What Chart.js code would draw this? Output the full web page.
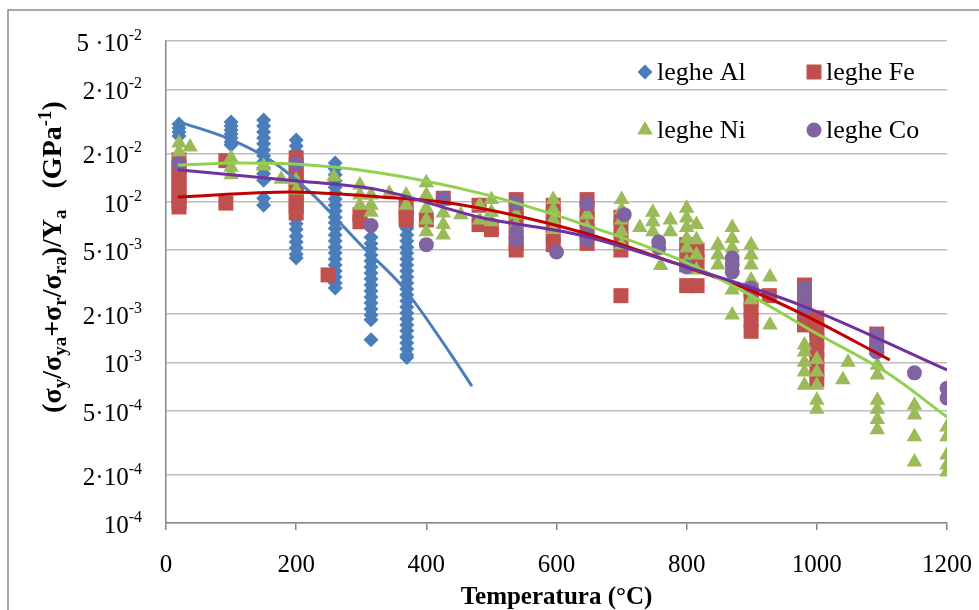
<!DOCTYPE html>
<html>
<head>
<meta charset="utf-8">
<script src="https://cdn.jsdelivr.net/npm/chart.js@4.4.0/dist/chart.umd.min.js"></script>
<style>
html, body { margin: 0; padding: 0; background: #fff; }
#contenitore { width: 979px; height: 610px; position: relative; }
</style>
</head>
<body>
<div id="contenitore"><canvas id="grafico"></canvas></div>
<script>
// valori: [temperatura °C, valore GPa^-1]
const legheAl = [
    [20, 3.04e-2], [20, 2.87e-2], [20, 2.71e-2], [20, 2.56e-2],
    [100, 3.13e-2], [100, 2.96e-2], [100, 2.79e-2], [100, 2.64e-2], [100, 2.49e-2], [100, 2.35e-2], [100, 2.25e-2],
    [150, 3.22e-2], [150, 2.96e-2], [150, 2.71e-2], [150, 2.49e-2], [150, 2.29e-2], [150, 2.10e-2], [150, 1.93e-2],
    [150, 1.77e-2], [150, 1.62e-2], [150, 1.49e-2], [150, 1.36e-2], [150, 1.05e-2], [150, 9.5e-3],
    [200, 2.42e-2], [200, 2.22e-2], [200, 2.04e-2], [200, 1.87e-2], [200, 1.72e-2], [200, 1.58e-2], [200, 1.45e-2],
    [200, 1.33e-2], [200, 1.22e-2], [200, 1.12e-2], [200, 1.03e-2], [200, 9.4e-3], [200, 8.6e-3], [200, 7.9e-3],
    [200, 7.3e-3], [200, 6.7e-3], [200, 6.1e-3], [200, 5.6e-3], [200, 5.15e-3], [200, 4.7e-3], [200, 4.46e-3],
    [260, 1.74e-2], [260, 1.60e-2], [260, 1.47e-2], [260, 1.35e-2], [260, 1.23e-2], [260, 1.13e-2], [260, 1.04e-2],
    [260, 9.5e-3], [260, 8.75e-3], [260, 8.0e-3], [260, 7.4e-3], [260, 6.8e-3], [260, 6.2e-3], [260, 5.7e-3],
    [260, 5.2e-3], [260, 4.8e-3], [260, 4.4e-3], [260, 4.04e-3], [260, 3.7e-3], [260, 3.4e-3], [260, 3.12e-3], [260, 2.9e-3],
    [315, 6.0e-3], [315, 5.5e-3], [315, 5.1e-3], [315, 4.66e-3], [315, 4.28e-3], [315, 3.92e-3], [315, 3.6e-3],
    [315, 3.3e-3], [315, 3.03e-3], [315, 2.78e-3], [315, 2.55e-3], [315, 2.34e-3], [315, 2.15e-3], [315, 1.97e-3],
    [315, 1.84e-3], [315, 1.38e-3],
    [370, 7.4e-3], [370, 6.8e-3], [370, 6.2e-3], [370, 5.7e-3], [370, 5.2e-3], [370, 4.8e-3], [370, 4.4e-3],
    [370, 4.04e-3], [370, 3.7e-3], [370, 3.4e-3], [370, 3.12e-3], [370, 2.86e-3], [370, 2.63e-3], [370, 2.41e-3],
    [370, 2.21e-3], [370, 2.03e-3], [370, 1.86e-3], [370, 1.71e-3], [370, 1.57e-3], [370, 1.44e-3], [370, 1.32e-3],
    [370, 1.21e-3], [370, 1.11e-3], [370, 1.07e-3]
];

const legheFe = [
    [20, 1.82e-2], [20, 1.64e-2], [20, 1.49e-2], [20, 1.35e-2], [20, 1.22e-2], [20, 1.10e-2], [20, 9.96e-3], [20, 9.27e-3],
    [92, 1.8e-2], [92, 9.8e-3],
    [200, 1.87e-2], [200, 1.69e-2], [200, 1.53e-2], [200, 1.38e-2], [200, 1.25e-2], [200, 1.13e-2], [200, 1.03e-2],
    [200, 9.27e-3], [200, 8.5e-3],
    [249, 3.5e-3],
    [298, 8.3e-3], [298, 7.5e-3],
    [369, 9.27e-3], [369, 8.4e-3], [369, 7.7e-3],
    [400, 7.7e-3], [426, 1.05e-2],
    [481, 9.5e-3], [481, 7.2e-3], [500, 6.7e-3],
    [538, 1.03e-2], [538, 8.9e-3], [538, 7.7e-3], [538, 6.5e-3], [538, 5.5e-3], [538, 5.0e-3],
    [595, 9.5e-3], [595, 8.3e-3], [595, 7.2e-3], [595, 6.2e-3], [595, 5.4e-3],
    [647, 1.03e-2], [647, 8.9e-3], [647, 7.7e-3], [647, 6.5e-3], [647, 5.5e-3],
    [699, 8.0e-3], [699, 6.9e-3], [699, 5.8e-3], [699, 5.0e-3], [699, 2.6e-3],
    [800, 5.4e-3], [800, 4.66e-3], [800, 4.04e-3], [800, 3.0e-3],
    [816, 5.0e-3], [816, 4.2e-3], [816, 3.0e-3],
    [899, 2.82e-3], [899, 2.45e-3], [899, 2.12e-3], [899, 1.84e-3], [899, 1.56e-3],
    [927, 2.6e-3],
    [981, 3.03e-3], [981, 2.63e-3], [981, 2.28e-3], [981, 1.97e-3], [981, 1.71e-3],
    [1000, 1.89e-3], [1000, 1.59e-3], [1000, 1.38e-3], [1000, 1.19e-3], [1000, 1.04e-3], [1000, 9.0e-4], [1000, 7.8e-4],
    [1092, 1.5e-3], [1092, 1.23e-3]
];

const legheNi = [
    [20, 2.32e-2], [20, 2.04e-2], [37, 2.19e-2],
    [100, 1.87e-2], [100, 1.64e-2], [100, 1.47e-2],
    [150, 1.67e-2], [177, 1.38e-2],
    [200, 1.36e-2], [200, 1.18e-2],
    [258, 1.43e-2],
    [298, 1.27e-2], [298, 1.10e-2], [298, 9.5e-3],
    [315, 1.10e-2], [315, 9.5e-3], [315, 8.6e-3],
    [343, 1.13e-2],
    [369, 1.10e-2], [369, 9.5e-3],
    [400, 1.31e-2], [400, 1.10e-2], [400, 9.1e-3], [400, 7.7e-3], [400, 6.5e-3],
    [426, 8.5e-3], [426, 7.2e-3], [426, 6.2e-3],
    [453, 8.3e-3],
    [482, 9.5e-3], [482, 7.7e-3],
    [500, 1.03e-2], [500, 8.6e-3], [500, 7.5e-3],
    [538, 8.3e-3], [538, 7.2e-3],
    [595, 1.03e-2], [595, 8.9e-3], [595, 7.7e-3], [595, 6.7e-3],
    [647, 8.3e-3], [647, 6.9e-3],
    [700, 1.03e-2], [700, 8.9e-3], [700, 7.7e-3], [700, 6.5e-3], [700, 5.4e-3],
    [728, 6.9e-3],
    [748, 8.6e-3], [748, 7.5e-3], [748, 6.5e-3],
    [760, 4.0e-3],
    [775, 7.7e-3], [775, 6.5e-3],
    [800, 9.1e-3], [800, 7.9e-3], [800, 6.9e-3], [800, 5.9e-3], [800, 5.15e-3], [800, 4.2e-3],
    [815, 7.2e-3], [815, 5.8e-3], [815, 4.66e-3], [815, 3.76e-3],
    [848, 5.4e-3], [848, 4.66e-3], [848, 4.04e-3],
    [870, 6.9e-3], [870, 5.9e-3], [870, 5.15e-3], [870, 4.46e-3], [870, 3.87e-3], [870, 2.82e-3], [870, 1.97e-3],
    [899, 5.4e-3], [899, 4.66e-3], [899, 4.04e-3], [899, 3.26e-3], [899, 2.45e-3],
    [928, 3.4e-3], [928, 1.71e-3],
    [981, 1.28e-3], [981, 1.16e-3], [981, 1.0e-3], [981, 8.7e-4], [981, 7.2e-4],
    [1000, 1.04e-3], [1000, 8.7e-4], [1000, 7.2e-4], [1000, 5.8e-4], [1000, 5.1e-4],
    [1040, 7.8e-4], [1048, 1.0e-3],
    [1093, 9.6e-4], [1093, 8.35e-4], [1093, 5.8e-4], [1093, 5.1e-4], [1093, 4.4e-4], [1093, 3.8e-4],
    [1150, 5.4e-4], [1150, 4.7e-4], [1150, 3.44e-4], [1150, 2.4e-4],
    [1200, 3.96e-4], [1200, 3.44e-4], [1200, 2.65e-4], [1200, 2.3e-4], [1200, 2.08e-4]
];

const legheCo = [
    [20, 1.72e-2], [200, 1.72e-2], [315, 7.1e-3], [400, 5.4e-3], [426, 1.05e-2],
    [538, 9.8e-3], [538, 6.5e-3], [538, 5.8e-3],
    [600, 4.86e-3],
    [647, 9.7e-3], [647, 6.4e-3], [647, 5.8e-3],
    [704, 8.3e-3],
    [757, 5.6e-3], [757, 5.15e-3],
    [800, 3.92e-3],
    [870, 4.46e-3], [870, 4.04e-3], [870, 3.65e-3],
    [899, 2.9e-3],
    [981, 2.9e-3], [981, 2.52e-3], [981, 2.12e-3],
    [1092, 1.48e-3], [1092, 1.28e-3], [1092, 1.16e-3],
    [1150, 8.6e-4],
    [1200, 6.9e-4], [1200, 6.0e-4]
];

// linee di tendenza (punti letti lungo le curve)
const tendenzaAl = [[21, 3.13e-2], [98, 2.45e-2], [160, 1.82e-2], [221, 1.15e-2], [303, 5.2e-3], [364, 2.94e-3], [436, 1.15e-3], [470, 7.1e-4]];
const tendenzaFe = [[18, 1.07e-2], [190, 1.15e-2], [329, 1.07e-2], [436, 9.8e-3], [636, 6.5e-3], [790, 4.04e-3], [897, 2.82e-3], [974, 2.03e-3], [1112, 1.035e-3]];
const tendenzaNi = [[18, 1.69e-2], [114, 1.74e-2], [190, 1.72e-2], [329, 1.51e-2], [482, 1.13e-2], [636, 7.36e-3], [790, 4.34e-3], [897, 2.63e-3], [990, 1.59e-3], [1108, 8.6e-4], [1200, 4.57e-4]];
const tendenzaCo = [[18, 1.58e-2], [190, 1.36e-2], [329, 1.18e-2], [482, 8.0e-3], [636, 6.2e-3], [790, 4.04e-3], [974, 2.28e-3], [1200, 8.97e-4]];

// etichette asse y (come nell'originale)
const valoriTick = [1e-4, 2e-4, 5e-4, 1e-3, 2e-3, 5e-3, 1e-2, 2e-2, 5e-2, 1e-1];
const baseTick = ['10', '2·10', '5·10', '10', '2·10', '5·10', '10', '2·10', '2·10', '5 ·10'];
const espTick = ['-4', '-4', '-4', '-3', '-3', '-3', '-2', '-2', '-2', '-2'];

const titoloY = [['(σ', 'n'], ['y', 'b'], ['/σ', 'n'], ['ya', 'b'], ['+σ', 'n'], ['r', 'b'], ['/σ', 'n'], ['ra', 'b'],
    [')/Y', 'n'], ['a', 'b'], ['   (GPa', 'n'], ['-1', 'p'], [')', 'n']];
const titoloX = 'Temperatura (°C)';

const colori = { al: '#4a7ebb', fe: '#c0504d', ni: '#9bbb59', co: '#8064a2' };
const coloriLinea = { al: '#4a7ebb', fe: '#c00000', ni: '#92d050', co: '#7030a0' };

function punti(lista) {
    return lista.map(p => ({ x: p[0], y: p[1] }));
}

function serie(nome, lista, stile, raggio, colore, ordine) {
    return {
        label: nome,
        data: punti(lista),
        pointStyle: stile,
        pointRadius: raggio,
        pointBackgroundColor: colore,
        pointBorderWidth: 0,
        showLine: false,
        order: ordine
    };
}

function tendenza(lista, colore, ordine) {
    return {
        label: '',
        data: punti(lista),
        showLine: true,
        pointRadius: 0,
        borderColor: colore,
        borderWidth: 3,
        cubicInterpolationMode: 'monotone',
        fill: false,
        order: ordine
    };
}

function disegnaSimbolo(c, stile, x, y, colore) {
    c.fillStyle = colore;
    c.beginPath();
    if (stile === 'rectRot') {
        c.moveTo(x - 7.5, y); c.lineTo(x, y - 7.5); c.lineTo(x + 7.5, y); c.lineTo(x, y + 7.5);
    } else if (stile === 'rect') {
        c.rect(x - 7.5, y - 7.5, 15, 15);
    } else if (stile === 'triangle') {
        c.moveTo(x, y - 9); c.lineTo(x + 7.8, y + 4.5); c.lineTo(x - 7.8, y + 4.5);
    } else {
        c.arc(x, y, 7.5, 0, Math.PI * 2);
    }
    c.closePath();
    c.fill();
}

const legenda = [
    ['leghe Al', 'rectRot', colori.al, 645, 72],
    ['leghe Fe', 'rect', colori.fe, 814, 72],
    ['leghe Ni', 'triangle', colori.ni, 645, 130],
    ['leghe Co', 'circle', colori.co, 814, 130]
];

const testiGrafico = {
    id: 'testiGrafico',
    beforeDraw(chart) {
        const c = chart.ctx;
        c.save();
        c.fillStyle = '#fff';
        c.fillRect(0, 0, chart.width, chart.height);
        c.strokeStyle = '#8a8a8a';
        c.lineWidth = 1.5;
        c.beginPath();
        c.moveTo(8, chart.height);
        c.lineTo(8, 10);
        c.lineTo(chart.width, 10);
        c.stroke();
        c.restore();
    },
    afterDraw(chart) {
        const c = chart.ctx;
        const scalaY = chart.scales.y;
        c.save();
        c.fillStyle = '#000';
        c.textBaseline = 'alphabetic';

        // etichette asse y con esponente
        for (let i = 0; i < valoriTick.length; i++) {
            const py = scalaY.getPixelForValue(valoriTick[i]);
            c.font = '16px "Liberation Serif"';
            const wEsp = c.measureText(espTick[i]).width;
            c.textAlign = 'left';
            c.fillText(espTick[i], 142 - wEsp, py - 1);
            c.font = '25px "Liberation Serif"';
            c.textAlign = 'right';
            c.fillText(baseTick[i], 142 - wEsp, py + 10);
        }

        // titolo asse x
        c.font = 'bold 25px "Liberation Serif"';
        c.textAlign = 'center';
        c.fillText(titoloX, (chart.chartArea.left + chart.chartArea.right) / 2, 604);

        // titolo asse y (ruotato, con pedici)
        const fontN = 'bold 28px "Liberation Serif"';
        const fontP = 'bold 19px "Liberation Serif"';
        let totale = 0;
        for (const [t, s] of titoloY) {
            c.font = s === 'n' ? fontN : fontP;
            totale += c.measureText(t).width;
        }
        c.translate(61, 257);
        c.rotate(-Math.PI / 2);
        c.textAlign = 'left';
        let x = -totale / 2;
        for (const [t, s] of titoloY) {
            c.font = s === 'n' ? fontN : fontP;
            const dy = s === 'b' ? 5 : (s === 'p' ? -10 : 0);
            c.fillText(t, x, dy);
            x += c.measureText(t).width;
        }
        c.setTransform(1, 0, 0, 1, 0, 0);

        // legenda
        c.font = '26px "Liberation Serif"';
        c.textAlign = 'left';
        c.textBaseline = 'middle';
        for (const [nome, stile, colore, lx, ly] of legenda) {
            disegnaSimbolo(c, stile, lx, ly, colore);
            c.fillStyle = '#000';
            c.fillText(nome, lx + 12, ly + 1);
        }
        c.restore();
    }
};

new Chart(document.getElementById('grafico'), {
    type: 'scatter',
    data: {
        datasets: [
            tendenza(tendenzaCo, coloriLinea.co, 0),
            tendenza(tendenzaNi, coloriLinea.ni, 1),
            tendenza(tendenzaFe, coloriLinea.fe, 2),
            tendenza(tendenzaAl, coloriLinea.al, 3),
            serie('leghe Co', legheCo, 'circle', 7.5, colori.co, 4),
            serie('leghe Ni', legheNi, 'triangle', 9, colori.ni, 5),
            serie('leghe Fe', legheFe, 'rect', 10.6, colori.fe, 6),
            serie('leghe Al', legheAl, 'rectRot', 7.5, colori.al, 7)
        ]
    },
    options: {
        responsive: true,
        maintainAspectRatio: false,
        animation: false,
        devicePixelRatio: 1,
        events: [],
        layout: { padding: { top: 41, right: 32, left: 0, bottom: 0 } },
        plugins: {
            legend: { display: false },
            tooltip: { enabled: false }
        },
        scales: {
            x: {
                type: 'linear',
                min: 0,
                max: 1200,
                ticks: {
                    stepSize: 200,
                    maxRotation: 0,
                    padding: 20,
                    color: '#000',
                    font: { family: 'Liberation Serif', size: 25 },
                    callback: function (v) { return String(v); }
                },
                grid: { drawOnChartArea: false, drawTicks: true, tickLength: 7, color: '#868686', lineWidth: 1.5 },
                border: { color: '#868686', width: 1.5 },
                afterFit: function (scala) {
                    scala.height = 87;
                    scala.paddingLeft = 0;
                    scala.paddingRight = 0;
                }
            },
            y: {
                type: 'logarithmic',
                min: 1e-4,
                max: 1e-1,
                ticks: { display: false },
                grid: { color: '#bdbdbd', lineWidth: 1.5, drawTicks: false },
                border: { color: '#868686', width: 1.5 },
                afterBuildTicks: function (scala) {
                    scala.ticks = valoriTick.map(v => ({ value: v }));
                },
                afterFit: function (scala) { scala.width = 166; }
            }
        }
    },
    plugins: [testiGrafico]
});
</script>
</body>
</html>
